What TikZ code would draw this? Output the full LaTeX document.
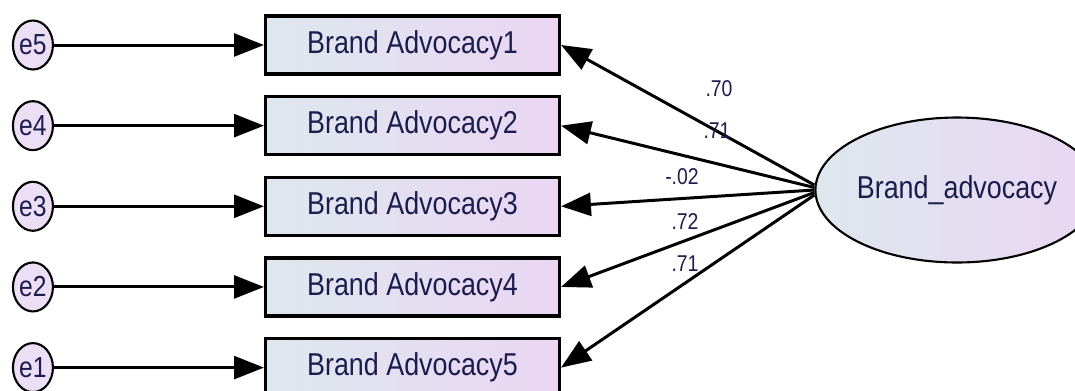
\documentclass[tikz,border=0pt]{standalone}
\usepackage{fontspec}
\setmainfont{Liberation Sans}[FakeStretch=0.85]
\definecolor{BoxLeft}{RGB}{222,231,238}
\definecolor{BoxRight}{RGB}{234,214,243}
\definecolor{ErrFill}{RGB}{236,222,245}
\definecolor{TextNavy}{RGB}{28,28,78}
\usetikzlibrary{positioning, shapes, arrows.meta}

\begin{document}
\begin{tikzpicture}[x=0.02cm, y=-0.02cm,
  box/.style={rectangle, draw=black, line width=1.8pt, left color=BoxLeft, right color=BoxRight, minimum width=5.88cm, minimum height=1.16cm, inner sep=0pt, text=TextNavy, font=\fontsize{18}{20}\selectfont},
  err/.style={ellipse, draw=black, line width=1.2pt, fill=ErrFill, minimum width=0.8cm, minimum height=0.98cm, inner sep=0pt, text=TextNavy, font=\fontsize{16.5}{18}\selectfont},
  latent/.style={ellipse, draw=black, line width=1.2pt, left color=BoxLeft, right color=BoxRight, minimum width=4.6cm, minimum height=2.9cm, inner sep=0pt, text=TextNavy, font=\fontsize{18}{20}\selectfont},
  coef/.style={text=TextNavy, inner sep=0pt, font=\fontsize{13}{15}\selectfont},
  arrow/.style={-{Triangle[length=17pt, width=13pt]}, line width=1.7pt, black}
]
    \clip (0,0) rectangle (1075,390);
    % observed indicators
    \node[box] (b1) at (412.5,45) {Brand Advocacy1};
    \node[box, below=0.39cm of b1] (b2) {Brand Advocacy2};
    \node[box, below=0.39cm of b2] (b3) {Brand Advocacy3};
    \node[box, below=0.39cm of b3] (b4) {Brand Advocacy4};
    \node[box, below=0.39cm of b4] (b5) {Brand Advocacy5};

    % error terms
    \node[err, left=4.2cm of b1] (e5) {e5};
    \node[err, left=4.2cm of b2] (e4) {e4};
    \node[err, left=4.2cm of b3] (e3) {e3};
    \node[err, left=4.2cm of b4] (e2) {e2};
    \node[err, left=4.2cm of b5] (e1) {e1};

    % latent factor
    \node[latent] (ba) at (957,190) {Brand\_advocacy};

    \draw[arrow] (e5) -- (b1);
    \draw[arrow] (e4) -- (b2);
    \draw[arrow] (e3) -- (b3);
    \draw[arrow] (e2) -- (b4);
    \draw[arrow] (e1) -- (b5);

    \draw[arrow] ([yshift=0.1cm]ba.west) -- (b1.east);
    \draw[arrow] ([yshift=0.05cm]ba.west) -- (b2.east);
    \draw[arrow] (ba.west) -- (b3.east);
    \draw[arrow] ([yshift=-0.05cm]ba.west) -- (b4.east);
    \draw[arrow] ([yshift=-0.1cm]ba.west) -- (b5.east);

    % loadings
    \node[coef] (l1) at (719,89) {.70};
    \node[coef] (l2) at (717,131) {.71};
    \node[coef] (l3) at (682,177) {-.02};
    \node[coef] (l4) at (685,222) {.72};
    \node[coef] (l5) at (685,264) {.71};
\end{tikzpicture}
\end{document}
